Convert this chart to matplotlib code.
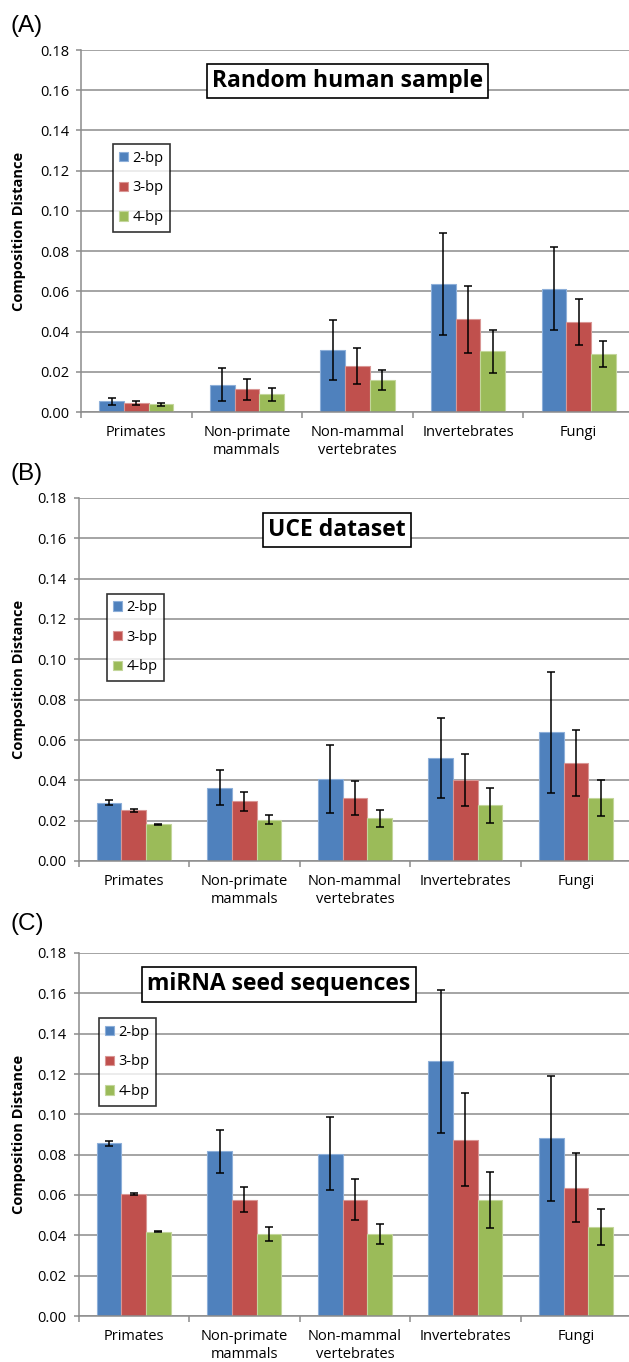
import matplotlib
matplotlib.use("Agg")
import matplotlib.pyplot as plt
import numpy as np

categories = ["Primates", "Non-primate\nmammals", "Non-mammal\nvertebrates", "Invertebrates", "Fungi"]
series_names = ["2-bp", "3-bp", "4-bp"]
panel_labels = ["(A)", "(B)", "(C)"]
panel_titles = ["Random human sample", "UCE dataset", "miRNA seed sequences"]
y_ticks = [0.00, 0.02, 0.04, 0.06, 0.08, 0.10, 0.12, 0.14, 0.16, 0.18]

# Panel A: Random human sample
A_2bp = [0.0053, 0.0136, 0.0307, 0.0638, 0.0612]
A_2bp_err = [0.0017, 0.0081, 0.0148, 0.0253, 0.0206]
A_3bp = [0.0043, 0.0113, 0.0229, 0.0460, 0.0449]
A_3bp_err = [0.0010, 0.0053, 0.0088, 0.0168, 0.0114]
A_4bp = [0.0038, 0.0088, 0.0158, 0.0302, 0.0289]
A_4bp_err = [0.0006, 0.0031, 0.0050, 0.0106, 0.0063]

# Panel B: UCE dataset
B_2bp = [0.0289, 0.0363, 0.0406, 0.0511, 0.0639]
B_2bp_err = [0.0012, 0.0087, 0.0167, 0.0200, 0.0300]
B_3bp = [0.0251, 0.0296, 0.0311, 0.0401, 0.0484]
B_3bp_err = [0.0007, 0.0046, 0.0084, 0.0128, 0.0164]
B_4bp = [0.0181, 0.0205, 0.0211, 0.0276, 0.0314]
B_4bp_err = [0.0003, 0.0024, 0.0043, 0.0087, 0.0090]

# Panel C: miRNA seed sequences
C_2bp = [0.0857, 0.0816, 0.0805, 0.1264, 0.0881]
C_2bp_err = [0.0012, 0.0108, 0.0182, 0.0355, 0.0311]
C_3bp = [0.0604, 0.0577, 0.0577, 0.0874, 0.0637]
C_3bp_err = [0.0004, 0.0063, 0.0100, 0.0230, 0.0172]
C_4bp = [0.0418, 0.0406, 0.0408, 0.0574, 0.0440]
C_4bp_err = [0.0002, 0.0033, 0.0050, 0.0138, 0.0090]

colors = ["#4F81BD", "#C0504D", "#9BBB59"]
edges = ["#8DAFD9", "#D99694", "#C3D69B"]

W, H = 629, 1362
fig = plt.figure(figsize=(W / 100, H / 100), dpi=100)
FONT = "Open Sans"

panels = [
    dict(vals=[A_2bp, A_3bp, A_4bp], errs=[A_2bp_err, A_3bp_err, A_4bp_err],
         left=81, top=50, bottom=412, xmax=4.455,
         leg=(112.9, 144.3), title=(347.8, 80.9), lab=(11, 26)),
    dict(vals=[B_2bp, B_3bp, B_4bp], errs=[B_2bp_err, B_3bp_err, B_4bp_err],
         left=78.5, top=498, bottom=861, xmax=4.48,
         leg=(106.8, 593.7), title=(337.2, 530.0), lab=(11, 474)),
    dict(vals=[C_2bp, C_3bp, C_4bp], errs=[C_2bp_err, C_3bp_err, C_4bp_err],
         left=78.5, top=953, bottom=1316, xmax=4.48,
         leg=(98.8, 1018.3), title=(279.0, 984.5), lab=(11, 924)),
]

grid_c = "#8C8C8C"
bw = 0.2235
x = np.arange(len(categories))

for i, p in enumerate(panels):
    l = p["left"] / W
    b = 1 - p["bottom"] / H
    h = (p["bottom"] - p["top"]) / H
    ax = fig.add_axes([l, b, 1 - l, h])
    ax.set_xlim(-0.5, p["xmax"])
    ax.set_ylim(0, 0.18)
    ax.set_axisbelow(True)
    ax.yaxis.grid(True, color=grid_c, linewidth=1.1)
    for k in range(3):
        ax.bar(x + (k - 1) * bw, p["vals"][k], width=bw, color=colors[k],
               edgecolor=edges[k], linewidth=0.8, label=series_names[k], zorder=2)
        ax.errorbar(x + (k - 1) * bw, p["vals"][k], yerr=p["errs"][k], fmt="none",
                    ecolor="black", elinewidth=1.1, capsize=2.6, capthick=1.1, zorder=3)
    for s in ["top", "right"]:
        ax.spines[s].set_visible(False)
    for s in ["left", "bottom"]:
        ax.spines[s].set_color(grid_c)
        ax.spines[s].set_linewidth(1.1)
    ax.set_yticks(y_ticks)
    ax.set_yticklabels([f"{v:.2f}" for v in y_ticks], fontfamily=FONT, fontsize=10.5)
    ax.tick_params(axis="y", length=3.5, width=1.1, color=grid_c, pad=5)
    ax.set_xticks(x)
    ax.set_xticklabels(categories, fontfamily=FONT, fontsize=10.5, linespacing=1.25)
    ax.set_xticks(np.arange(len(categories)) - 0.5, minor=True)
    ax.tick_params(axis="x", which="major", length=0, pad=9.5)
    ax.tick_params(axis="x", which="minor", length=4, width=1.1, color=grid_c)
    ax.set_ylabel("Composition Distance", fontfamily=FONT, fontweight="bold", fontsize=10.5)
    ax.yaxis.set_label_coords(-(p["left"] - 26) / (W - p["left"]), 0.5)

    # legend
    lx = (p["leg"][0] - p["left"]) / (W - p["left"])
    ly = (p["bottom"] - p["leg"][1]) / (p["bottom"] - p["top"])
    leg = ax.legend(loc="upper left", bbox_to_anchor=(lx, ly), borderaxespad=0,
                    frameon=True, fancybox=False, edgecolor="black",
                    prop={"family": FONT, "size": 10.5}, handlelength=0.6,
                    handleheight=0.6, handletextpad=0.3, labelspacing=1.0,
                    borderpad=0.45)
    leg.get_frame().set_linewidth(1.2)

    # title box
    tx = (p["title"][0] - p["left"]) / (W - p["left"])
    ty = (p["bottom"] - p["title"][1]) / (p["bottom"] - p["top"])
    ax.text(tx, ty, panel_titles[i], transform=ax.transAxes, ha="center", va="center",
            fontfamily=FONT, fontweight="bold", fontsize=16.5, zorder=5,
            bbox=dict(boxstyle="square,pad=0.22", facecolor="white", edgecolor="black",
                      linewidth=1.2))

    fig.text(p["lab"][0] / W, 1 - p["lab"][1] / H, panel_labels[i], ha="left", va="center",
             fontfamily="Liberation Sans", fontsize=17.5)

fig.savefig("out.png", dpi=100)
